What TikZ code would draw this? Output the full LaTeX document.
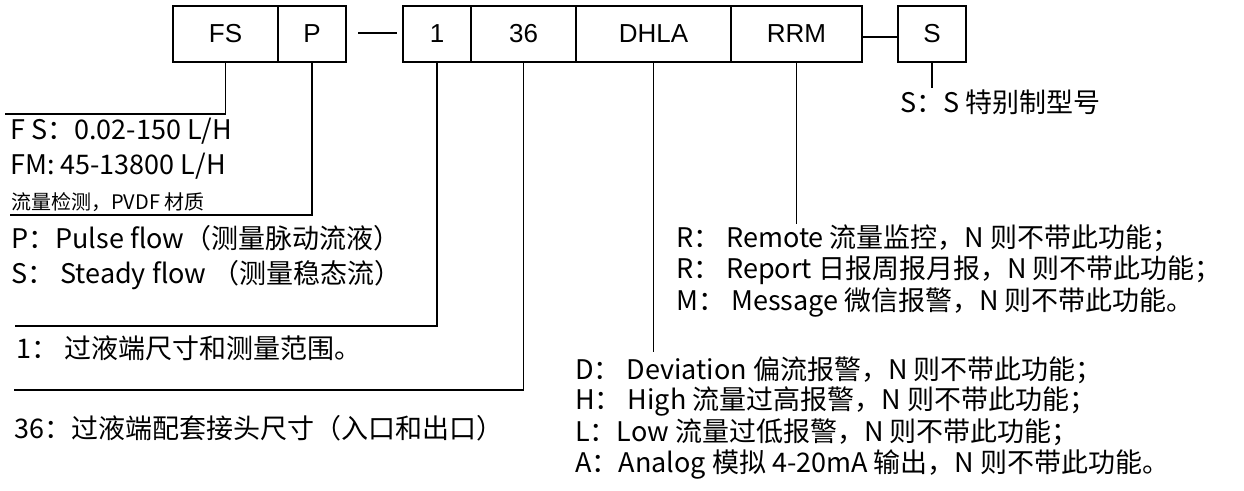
\documentclass[tikz,border=0pt]{standalone}
\usepackage{fontspec}
\setmainfont{Noto Sans CJK SC}
\newfontfamily\boxfont{Liberation Sans}
\usetikzlibrary{positioning}
\tikzset{
  code/.style={draw, line width=1.8pt, outer sep=0pt, inner sep=0pt,
    minimum height=56pt, font=\boxfont\fontsize{26}{26}\selectfont},
  lead/.style={line width=1.4pt},
  note/.style={anchor=west, inner sep=0pt, font=\fontsize{27}{27}\selectfont},
  small/.style={anchor=west, inner sep=0pt, font=\fontsize{20}{20}\selectfont}
}

\begin{document}
\begin{tikzpicture}[x=1pt,y=-1pt]
\useasboundingbox (0,0) rectangle (1244,490);
% code boxes
\node[code, minimum width=105pt] (fs) at (225.5,34) {FS};
\node[code, minimum width=68pt, right=0pt of fs] (p) {P};
\node[code, minimum width=68pt] (one) at (437,34) {1};
\node[code, minimum width=105pt, right=0pt of one] (size) {36};
\node[code, minimum width=155pt, right=0pt of size] (dhla) {DHLA};
\node[code, minimum width=131pt, right=0pt of dhla] (rrm) {RRM};
\node[code, minimum width=68pt] (spec) at (932,34) {S};
\draw[lead] (358,33) coordinate (d1) -- (397,33) coordinate (d2);
\draw[lead] (rrm.east |- 0,37) -- (spec.west |- 0,37);

% notes
\node[note] (fsa) at (10,131) {F S：0.02-150 L/H};
\node[note] (fsb) at (10,166) {FM: 45-13800 L/H};
\node[small] (fsc) at (11,202) {流量检测，PVDF 材质};
\node[note] (pa) at (11,238) {P：Pulse flow（测量脉动流液）};
\node[note] (pb) at (11,275) {S：\ Steady flow （测量稳态流）};
\node[note] (onea) at (16,348) {1：\ 过液端尺寸和测量范围。};
\node[note] (sizea) at (14,428) {36：过液端配套接头尺寸（入口和出口）};
\node[note] (ra) at (676,238) {R：\ Remote 流量监控，N 则不带此功能；};
\node[note] (rb) at (676,270) {R：\ Report 日报周报月报，N 则不带此功能；};
\node[note] (rc) at (676,303) {M：\ Message 微信报警，N 则不带此功能。};
\node[note] (da) at (575,370) {D：\ Deviation 偏流报警，N 则不带此功能；};
\node[note] (db) at (575,401) {H：\ High 流量过高报警，N 则不带此功能；};
\node[note] (dc) at (575,432) {L：Low 流量过低报警，N 则不带此功能；};
\node[note] (dd) at (575,464) {A：Analog 模拟 4-20mA 输出，N 则不带此功能。};
\node[note] (sa) at (900,102) {S：S 特别制型号};

% leaders
\draw[lead] (fs.south) |- (5,114);
\draw[lead] (p.south) |- (10,215);
\draw[lead] (one.south) |- (15,326);
\draw[lead] (size.south) |- (14,390);
\draw[lead] (dhla.south) -- (dhla.south |- 0,352);
\draw[lead] (rrm.south) -- (rrm.south |- 0,224);
\draw[lead] (spec.south) -- (spec.south |- 0,88);
\end{tikzpicture}
\end{document}
